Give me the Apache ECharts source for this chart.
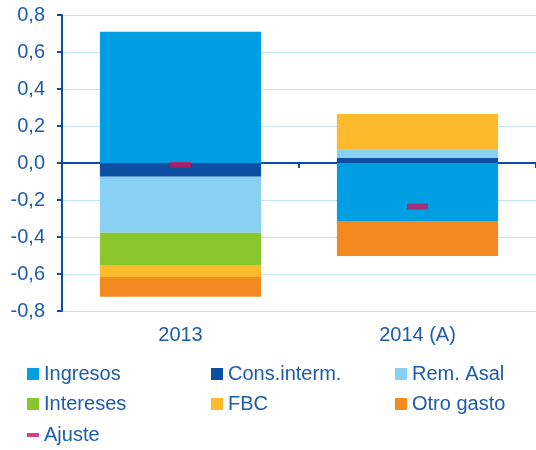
<!DOCTYPE html>
<html lang="es">
<head>
    <meta charset="UTF-8">
    <title>Contribuciones</title>
    <script src="https://cdn.jsdelivr.net/npm/echarts@6/dist/echarts.min.js"></script>
</head>
<body style="margin:0">
<div id="chart" style="width: 536px;height: 450px;"></div>
<script>
  // categorías y valores de cada componente
  var years = ['2013', '2014 (A)'];
  var ingresos = [0.71, -0.313];
  var consInterm = [-0.074, 0.027];
  var remAsal = [-0.303, 0.045];
  var intereses = [-0.174, 0.003];
  var fbc = [-0.065, 0.19];
  var otroGasto = [-0.107, -0.19];
  var ajuste = [-0.01, -0.236];
  var yTicks = [-0.8, 0.8, 0.2];

  var txt = '#1D5BAB';
  var font = 'Liberation Sans';

  function barSerie(name, data, color) {
    return {
      name: name,
      type: 'bar',
      stack: 'total',
      barWidth: '68%',
      data: data,
      itemStyle: {color: color},
      emphasis: {disabled: true}
    };
  }

  var chart = echarts.init(document.getElementById('chart'));
  var legendText = {color: txt, fontSize: 20, fontFamily: font, lineHeight: 20};

  var option = {
    animation: false,
    grid: {left: 62, right: 0, top: 15, bottom: 139},
    legend: [
      {left: 27, top: 364, orient: 'vertical', itemWidth: 12, itemHeight: 12, itemGap: 10, padding: 0,
        icon: 'rect', textStyle: legendText, data: ['Ingresos', 'Intereses']},
      {left: 211, top: 364, orient: 'vertical', itemWidth: 12, itemHeight: 12, itemGap: 10, padding: 0,
        icon: 'rect', textStyle: legendText, data: ['Cons.interm.', 'FBC']},
      {left: 395, top: 364, orient: 'vertical', itemWidth: 12, itemHeight: 12, itemGap: 10, padding: 0,
        icon: 'rect', textStyle: legendText, data: ['Rem. Asal', 'Otro gasto']},
      {left: 27, top: 425, itemWidth: 12, itemHeight: 4, padding: 0,
        icon: 'rect', textStyle: legendText, data: ['Ajuste']}
    ],
    xAxis: [
      {
        type: 'category',
        data: years,
        axisLine: {onZero: true, lineStyle: {color: '#0B4EA2', width: 2}},
        axisTick: {show: true, length: 5, lineStyle: {color: '#0B4EA2', width: 2}},
        axisLabel: {show: false}
      },
      {
        type: 'category',
        data: years,
        position: 'bottom',
        axisLine: {show: false, onZero: false},
        axisTick: {show: false},
        axisLabel: {color: txt, fontSize: 20, fontFamily: font, margin: 14}
      }
    ],
    yAxis: {
      type: 'value',
      min: yTicks[0],
      max: yTicks[1],
      interval: yTicks[2],
      axisLine: {show: true, onZero: false, lineStyle: {color: '#0B4EA2', width: 2}},
      axisTick: {show: true, length: 5, lineStyle: {color: '#0B4EA2', width: 2}},
      splitLine: {lineStyle: {color: '#C3E6F6', width: 1}},
      axisLabel: {
        color: txt, fontSize: 20, fontFamily: font, margin: 17,
        formatter: function (v) {
          return v.toFixed(1).replace('.', ',');
        }
      }
    },
    series: [
      barSerie('Ingresos', ingresos, '#009FE3'),
      barSerie('Cons.interm.', consInterm, '#0B4EA2'),
      barSerie('Rem. Asal', remAsal, '#89D1F3'),
      barSerie('Intereses', intereses, '#89C62E'),
      barSerie('FBC', fbc, '#FDBA2C'),
      barSerie('Otro gasto', otroGasto, '#F28A1F'),
      {
        name: 'Ajuste',
        type: 'scatter',
        symbol: 'rect',
        symbolSize: [21, 6],
        data: ajuste,
        z: 5,
        itemStyle: {color: '#C8175E'},
        emphasis: {disabled: true}
      }
    ]
  };

  chart.setOption(option);
</script>
</body>
</html>
